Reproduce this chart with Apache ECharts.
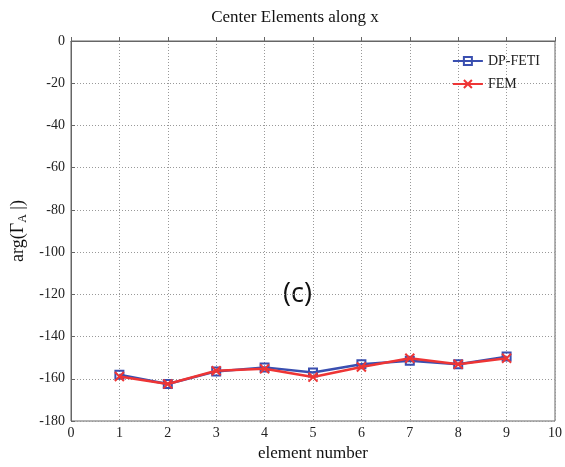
<!DOCTYPE html>
<html><head><meta charset="utf-8">
<script src="https://cdn.jsdelivr.net/npm/echarts@6/dist/echarts.min.js"></script>
<style>html,body{margin:0;padding:0;background:#fff}#c{width:565px;height:467px}</style>
</head><body><div id="c"></div>
<script>
var elements = [1, 2, 3, 4, 5, 6, 7, 8, 9];
var dpFeti = [-158.1, -162.5, -156.5, -154.6, -157.0, -153.1, -151.5, -153.1, -149.5];
var fem = [-158.9, -162.5, -156.2, -155.3, -159.2, -154.4, -150.3, -153.1, -150.3];
var xTicks = [0, 1, 2, 3, 4, 5, 6, 7, 8, 9, 10];
var yTicks = [0, -20, -40, -60, -80, -100, -120, -140, -160, -180];

var serif = '"Liberation Serif", "DejaVu Serif", serif';
var crossPath = 'path://M0,0 L10,10 M10,0 L0,10';
function pairs(ys){ return elements.map(function(x,i){ return [x, ys[i]]; }); }

var chart = echarts.init(document.getElementById('c'));
chart.setOption({
  animation: false,
  backgroundColor: '#fff',
  title: {
    text: 'Center Elements along x', left: 290, top: 4, textAlign: 'center',
    textStyle: { fontFamily: serif, fontSize: 17, fontWeight: 'normal', color: '#111' }
  },
  legend: {
    right: 20, top: 49, orient: 'vertical', itemGap: 9, itemWidth: 30, itemHeight: 10,
    textStyle: { fontFamily: serif, fontSize: 14, color: '#222' },
    data: ['DP-FETI', 'FEM']
  },
  grid: { left: 71, right: 8, top: 41, bottom: 43, show: true, borderColor: '#666', borderWidth: 1 },
  xAxis: {
    type: 'value', min: xTicks[0], max: xTicks[xTicks.length-1], interval: 1,
    name: 'element number', nameLocation: 'middle', nameGap: 24,
    nameTextStyle: { fontFamily: serif, fontSize: 17, color: '#111' },
    axisLine: { lineStyle: { color: '#666' } },
    axisTick: { inside: true, length: 4, lineStyle: { color: '#666' } },
    axisLabel: { fontFamily: serif, fontSize: 14, color: '#222', margin: 5 },
    splitLine: { show: true, lineStyle: { type: [1, 2], color: '#999' } }
  },
  yAxis: {
    type: 'value', min: yTicks[yTicks.length-1], max: yTicks[0], interval: 20,
    name: '{a|arg(Γ}{s|A}{a| |)}', nameLocation: 'middle', nameGap: 34, nameRotate: 90,
    nameTextStyle: { rich: {
      a: { fontFamily: serif, fontSize: 18, color: '#111' },
      s: { fontFamily: serif, fontSize: 12, color: '#111', verticalAlign: 'bottom', padding: [8,0,0,0] }
    } },
    axisLine: { lineStyle: { color: '#666' } },
    axisTick: { inside: true, length: 4, lineStyle: { color: '#666' } },
    axisLabel: { fontFamily: serif, fontSize: 14, color: '#222', margin: 6 },
    splitLine: { show: true, lineStyle: { type: [1, 2], color: '#999' } }
  },
  graphic: [{
    type: 'text', left: 283, top: 281,
    style: { text: '(c)', font: '27px "Open Sans", "DejaVu Sans", sans-serif', fill: '#111' }
  }],
  series: [
    {
      name: 'DP-FETI', type: 'line', data: pairs(dpFeti),
      symbol: 'rect', symbolSize: 8,
      lineStyle: { color: '#3a4fb0', width: 2.5 },
      itemStyle: { color: 'rgba(255,255,255,0)', borderColor: '#3a4fb0', borderWidth: 2 },
      z: 2
    },
    {
      name: 'FEM', type: 'line', data: pairs(fem),
      symbol: crossPath, symbolSize: 9,
      lineStyle: { color: '#ee3535', width: 2.5 },
      itemStyle: { color: '#ee3535', borderColor: '#ee3535', borderWidth: 2 },
      z: 3
    }
  ]
});
</script></body></html>
